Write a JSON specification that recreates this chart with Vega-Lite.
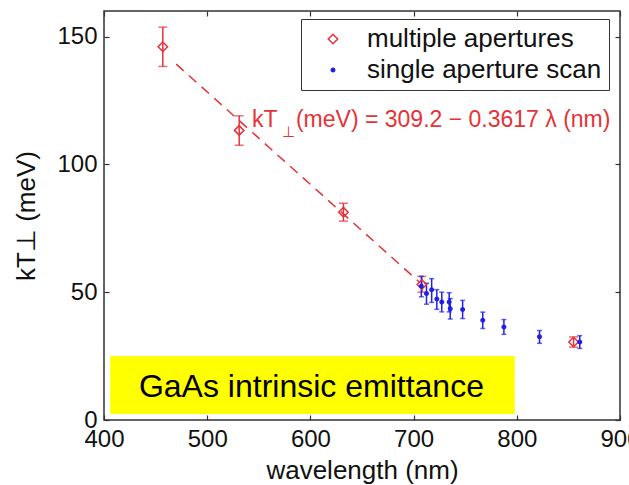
{
  "$schema": "https://vega.github.io/schema/vega-lite/v6.json",
  "width": 516,
  "height": 409,
  "autosize": "none",
  "padding": {"left": 104, "top": 11, "right": 9, "bottom": 65},
  "background": "white",
  "config": {
    "font": "Liberation Sans",
    "view": {"stroke": "#333333", "strokeWidth": 1.5},
    "axis": {
      "domain": false, "grid": false, "tickColor": "#333333", "tickSize": -5, "tickWidth": 1.2,
      "labelColor": "#111111", "labelFontSize": 24, "labelFont": "Liberation Sans", "labelFlush": false,
      "titleFontSize": 26, "titleFontWeight": "normal", "titleColor": "#111111", "titleFont": "Liberation Sans"
    },
    "legend": {
      "labelFontSize": 26, "labelFont": "Liberation Sans", "labelColor": "#111111", "labelLimit": 400,
      "strokeColor": "#333333", "fillColor": "white", "padding": 7, "rowPadding": 5,
      "symbolStrokeWidth": 1.5, "labelOffset": 21, "symbolOffset": 12, "cornerRadius": 0
    }
  },
  "datasets": {
    "pts": [
      {"series": "multiple apertures", "wl": 457, "kt": 146, "lo": 138.3, "hi": 153.7},
      {"series": "multiple apertures", "wl": 531, "kt": 113.3, "lo": 107.5, "hi": 119},
      {"series": "multiple apertures", "wl": 632, "kt": 81.3, "lo": 77.8, "hi": 84.8},
      {"series": "multiple apertures", "wl": 708, "kt": 53, "lo": 50, "hi": 56.2},
      {"series": "multiple apertures", "wl": 855, "kt": 30.5, "lo": 28.5, "hi": 32.5},
      {"series": "single aperture scan", "wl": 707.5, "kt": 52.3, "lo": 48.2, "hi": 56.2},
      {"series": "single aperture scan", "wl": 712.5, "kt": 49.5, "lo": 45.3, "hi": 53.5},
      {"series": "single aperture scan", "wl": 717.5, "kt": 51, "lo": 46, "hi": 55.3},
      {"series": "single aperture scan", "wl": 722.5, "kt": 47.3, "lo": 43.3, "hi": 51},
      {"series": "single aperture scan", "wl": 727.3, "kt": 46.2, "lo": 42.3, "hi": 50},
      {"series": "single aperture scan", "wl": 734.5, "kt": 46.2, "lo": 42.3, "hi": 49.8},
      {"series": "single aperture scan", "wl": 735.5, "kt": 43.5, "lo": 39.5, "hi": 47.5},
      {"series": "single aperture scan", "wl": 747.5, "kt": 43.2, "lo": 39.7, "hi": 46.8},
      {"series": "single aperture scan", "wl": 767, "kt": 39, "lo": 35.8, "hi": 42.2},
      {"series": "single aperture scan", "wl": 787.5, "kt": 36.4, "lo": 33.5, "hi": 39.3},
      {"series": "single aperture scan", "wl": 822, "kt": 32.6, "lo": 30, "hi": 35},
      {"series": "single aperture scan", "wl": 861, "kt": 30.5, "lo": 28, "hi": 33}
    ],
    "fit": [
      {"wl": 470, "kt": 139.2},
      {"wl": 706, "kt": 53.8}
    ]
  },
  "resolve": {"axis": {"x": "independent", "y": "independent"}},
  "layer": [
    {
      "data": {"values": [{}]},
      "mark": {"type": "rect", "color": "#ffff00"},
      "encoding": {
        "x": {"datum": 406, "type": "quantitative", "scale": {"domain": [400, 900], "nice": false, "zero": false},
              "axis": {"orient": "bottom", "values": [400, 500, 600, 700, 800, 900], "title": "wavelength (nm)", "labelPadding": 12, "titlePadding": 6}},
        "x2": {"datum": 798},
        "y": {"datum": 2.3, "type": "quantitative", "scale": {"domain": [0, 160], "nice": false, "zero": false},
              "axis": {"orient": "left", "values": [0, 50, 100, 150], "title": "kT⊥ (meV)", "labelPadding": 12, "titlePadding": 17}},
        "y2": {"datum": 25}
      }
    },
    {
      "data": {"values": [{}]},
      "mark": {"type": "text", "text": "GaAs intrinsic emittance", "fontSize": 32, "color": "#000000", "align": "center", "baseline": "alphabetic"},
      "encoding": {
        "x": {"datum": 601, "type": "quantitative", "axis": null},
        "y": {"datum": 9, "type": "quantitative", "axis": null}
      }
    },
    {
      "data": {"name": "fit"},
      "mark": {"type": "line", "color": "#e53238", "strokeWidth": 1.5, "strokeDash": [10, 7]},
      "encoding": {
        "x": {"field": "wl", "type": "quantitative",
              "axis": {"orient": "top", "values": [400, 500, 600, 700, 800, 900], "labels": false, "title": null}},
        "y": {"field": "kt", "type": "quantitative",
              "axis": {"orient": "right", "values": [0, 50, 100, 150], "labels": false, "title": null}}
      }
    },
    {
      "data": {"name": "pts"},
      "transform": [{"filter": {"field": "series", "equal": "multiple apertures"}}],
      "mark": {"type": "rule", "color": "#e53238", "strokeWidth": 1.5},
      "encoding": {
        "x": {"field": "wl", "type": "quantitative", "axis": null},
        "y": {"field": "lo", "type": "quantitative", "axis": null},
        "y2": {"field": "hi"}
      }
    },
    {
      "data": {"name": "pts"},
      "transform": [{"filter": {"field": "series", "equal": "multiple apertures"}}],
      "mark": {"type": "tick", "orient": "horizontal", "color": "#e53238", "size": 9, "thickness": 1.5},
      "encoding": {
        "x": {"field": "wl", "type": "quantitative", "axis": null},
        "y": {"field": "lo", "type": "quantitative", "axis": null}
      }
    },
    {
      "data": {"name": "pts"},
      "transform": [{"filter": {"field": "series", "equal": "multiple apertures"}}],
      "mark": {"type": "tick", "orient": "horizontal", "color": "#e53238", "size": 9, "thickness": 1.5},
      "encoding": {
        "x": {"field": "wl", "type": "quantitative", "axis": null},
        "y": {"field": "hi", "type": "quantitative", "axis": null}
      }
    },
    {
      "data": {"name": "pts"},
      "transform": [{"filter": {"field": "series", "equal": "single aperture scan"}}],
      "mark": {"type": "rule", "color": "#1f1fe6", "strokeWidth": 1.5},
      "encoding": {
        "x": {"field": "wl", "type": "quantitative", "axis": null},
        "y": {"field": "lo", "type": "quantitative", "axis": null},
        "y2": {"field": "hi"}
      }
    },
    {
      "data": {"name": "pts"},
      "transform": [{"filter": {"field": "series", "equal": "single aperture scan"}}],
      "mark": {"type": "tick", "orient": "horizontal", "color": "#1f1fe6", "size": 5, "thickness": 1.5},
      "encoding": {
        "x": {"field": "wl", "type": "quantitative", "axis": null},
        "y": {"field": "lo", "type": "quantitative", "axis": null}
      }
    },
    {
      "data": {"name": "pts"},
      "transform": [{"filter": {"field": "series", "equal": "single aperture scan"}}],
      "mark": {"type": "tick", "orient": "horizontal", "color": "#1f1fe6", "size": 5, "thickness": 1.5},
      "encoding": {
        "x": {"field": "wl", "type": "quantitative", "axis": null},
        "y": {"field": "hi", "type": "quantitative", "axis": null}
      }
    },
    {
      "data": {"name": "pts"},
      "mark": {"type": "point", "strokeWidth": 1.5, "opacity": 1},
      "encoding": {
        "x": {"field": "wl", "type": "quantitative", "axis": null},
        "y": {"field": "kt", "type": "quantitative", "axis": null},
        "stroke": {"field": "series", "type": "nominal",
                   "scale": {"domain": ["multiple apertures", "single aperture scan"], "range": ["#e53238", "#1f1fe6"]},
                   "legend": {"title": null, "orient": "none", "legendX": 197, "legendY": 8}},
        "fill": {"field": "series", "type": "nominal",
                 "scale": {"domain": ["multiple apertures", "single aperture scan"], "range": ["transparent", "#1f1fe6"]},
                 "legend": {"title": null, "orient": "none", "legendX": 197, "legendY": 8}},
        "shape": {"field": "series", "type": "nominal",
                  "scale": {"domain": ["multiple apertures", "single aperture scan"], "range": ["diamond", "circle"]},
                  "legend": {"title": null, "orient": "none", "legendX": 197, "legendY": 8}},
        "size": {"field": "series", "type": "nominal",
                 "scale": {"domain": ["multiple apertures", "single aperture scan"], "range": [90, 12]},
                 "legend": {"title": null, "orient": "none", "legendX": 197, "legendY": 8}}
      }
    },
    {
      "data": {"values": [{}]},
      "mark": {"type": "text", "text": "kT", "fontSize": 23, "color": "#e53238", "align": "left", "baseline": "alphabetic"},
      "encoding": {
        "x": {"datum": 543.4, "type": "quantitative", "axis": null},
        "y": {"datum": 114.5, "type": "quantitative", "axis": null}
      }
    },
    {
      "data": {"values": [{}]},
      "mark": {"type": "text", "text": "⊥", "fontSize": 15, "color": "#e53238", "align": "left", "baseline": "alphabetic"},
      "encoding": {
        "x": {"datum": 572, "type": "quantitative", "axis": null},
        "y": {"datum": 110.8, "type": "quantitative", "axis": null}
      }
    },
    {
      "data": {"values": [{}]},
      "mark": {"type": "text", "text": "(meV) = 309.2 − 0.3617 λ (nm)", "fontSize": 23, "color": "#e53238", "align": "left", "baseline": "alphabetic"},
      "encoding": {
        "x": {"datum": 586, "type": "quantitative", "axis": null},
        "y": {"datum": 114.5, "type": "quantitative", "axis": null}
      }
    }
  ]
}
